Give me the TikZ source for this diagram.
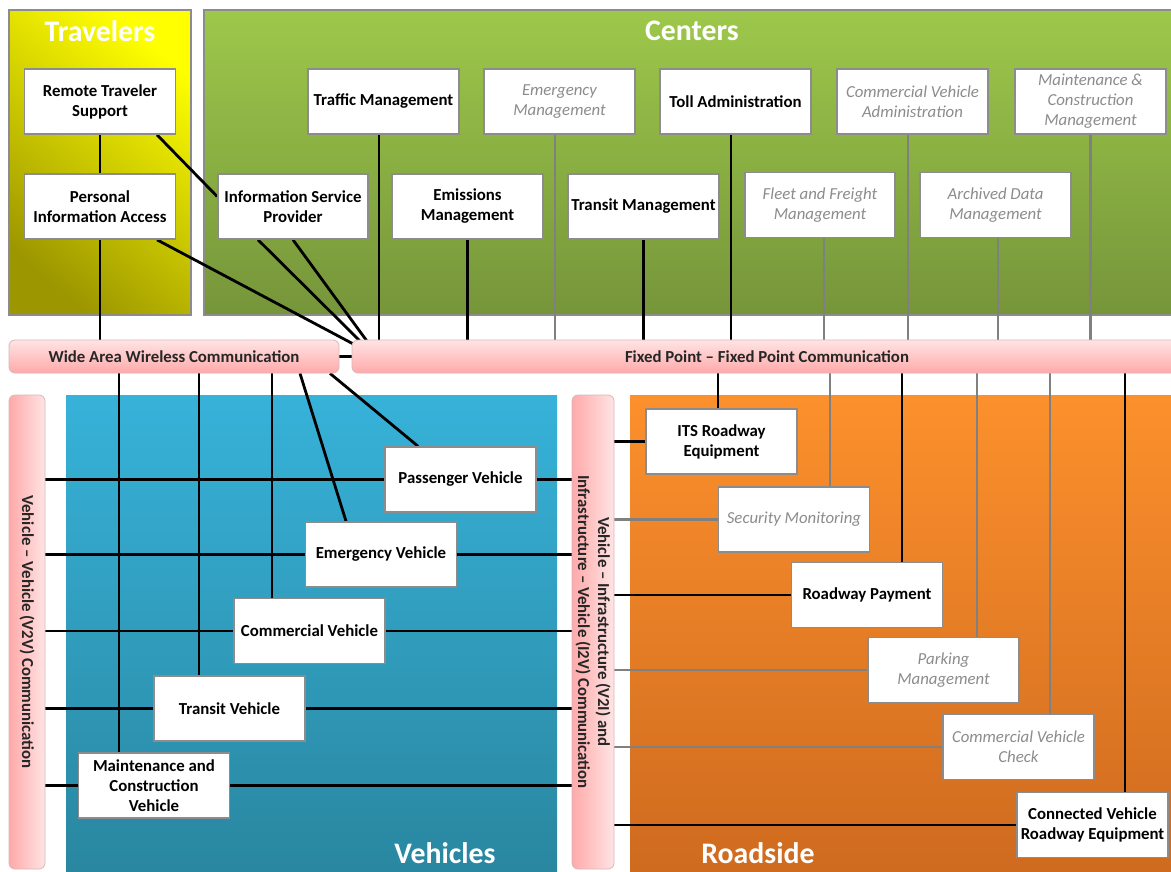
\documentclass[tikz,border=0pt]{standalone}
\usepackage{fontspec}
\setmainfont{Carlito}

\definecolor{boxline}{HTML}{8C8C8C}
\definecolor{dimtext}{HTML}{8C8C8C}
\definecolor{graywire}{HTML}{808080}
\definecolor{barline}{HTML}{D9B8B8}
\definecolor{pinkhi}{HTML}{FFE4E4}
\definecolor{pinklo}{HTML}{FFA9A9}
\definecolor{ylwhi}{HTML}{FFFF00}
\definecolor{ylwlo}{HTML}{9C9600}
\definecolor{grnhi}{HTML}{9DC84B}
\definecolor{grnlo}{HTML}{76953A}
\definecolor{bluhi}{HTML}{37B2D9}
\definecolor{blulo}{HTML}{29869F}
\definecolor{orghi}{HTML}{FC902C}
\definecolor{orglo}{HTML}{CE6A1F}

\pgfdeclarelayer{regions}
\pgfdeclarelayer{wires}
\pgfsetlayers{regions,wires,main}

% vertical tap from a node anchor (shifted sideways) into a bus bar
\newcommand\busdrop[4]{%
  \path ([xshift=#3]#2) coordinate (dropfoot);
  \draw[#1] (dropfoot) -- (dropfoot |- #4.center);}

\tikzset{
  unit/.style={draw=boxline, line width=1.6pt, fill=white, minimum width=151pt,
    minimum height=65pt, inner sep=2pt, align=center, text=black,
    font=\bfseries\fontsize{16.8}{20}\selectfont},
  dimunit/.style={unit, text=dimtext, font=\itshape\fontsize{16.8}{20}\selectfont},
  hbar/.style={draw=barline, line width=0.8pt, rounded corners=6pt,
    top color=pinkhi, bottom color=pinklo, inner sep=0pt, text=black!85,
    font=\bfseries\fontsize{16.8}{19}\selectfont},
  vbar/.style={draw=barline, line width=0.8pt, rounded corners=6pt,
    left color=pinklo, right color=pinkhi, inner sep=0pt},
  barlabel/.style={text=black!85, font=\bfseries\fontsize{16.8}{20}\selectfont,
    align=center, rotate=-90},
  wire/.style={line width=2.8pt, draw=black},
  dimlink/.style={line width=2.8pt, draw=graywire},
  region/.style={draw=boxline, line width=1.5pt},
  regiontitle/.style={text=white, font=\bfseries\fontsize{29.8}{32}\selectfont},
}

\begin{document}
\begin{tikzpicture}[x=1pt,y=-1pt]
\useasboundingbox (0,0) rectangle (1171,871);
\clip (0,0) rectangle (1171,871);

% ---------- coloured domains ----------
\begin{pgfonlayer}{regions}
  \clip (0,0) rectangle (1171,871);
  \fill[white] (0,0) rectangle (1171,871);
  \shade[region, top color=ylwhi, bottom color=ylwlo, shading angle=-40] (9,10) rectangle (191,315);
  \shade[region, top color=grnhi, bottom color=grnlo] (204,10) rectangle (1185,315);
  \shade[top color=bluhi, bottom color=blulo] (66,395) rectangle (557,880);
  \shade[top color=orghi, bottom color=orglo] (630,395) rectangle (1180,880);
\end{pgfonlayer}

\node[regiontitle] (ttrav) at (100,31) {Travelers};
\node[regiontitle] (tcent) at (692,31) {Centers};
\node[regiontitle] (tveh)  at (445,853) {Vehicles};
\node[regiontitle] (troad) at (758,853) {Roadside};

% ---------- communication bars ----------
\node[hbar, minimum width=330pt, minimum height=33pt] (wa) at (174,356.5) {Wide Area Wireless Communication};
\node[hbar, minimum width=830pt, minimum height=33pt] (fp) at (767,356.5) {Fixed Point -- Fixed Point Communication};
\node[vbar, minimum width=36pt, minimum height=474pt] (v2v) at (27,632) {};
\node[barlabel] (v2vlab) at (v2v.center) {Vehicle -- Vehicle (V2V) Communication};
\node[vbar, minimum width=42pt, minimum height=474pt] (v2i) at (593,632) {};
\node[barlabel] (v2ilab) at (v2i.center) {Vehicle -- Infrastructure (V2I) and\\Infrastructure -- Vehicle (I2V) Communication};

% ---------- travelers ----------
\node[unit] (rts) at (100,101.5) {Remote Traveler\\Support};
\node[unit] (pia) at (100,206.5) {Personal\\Information Access};

% ---------- centers ----------
\node[unit]    (tm)  at (383.5,101.5) {Traffic Management};
\node[dimunit] (em)  at (559.5,101.5) {Emergency\\Management};
\node[unit]    (ta)  at (735.5,101.5) {Toll Administration};
\node[dimunit] (cva) at (912.5,101.5) {Commercial Vehicle\\Administration};
\node[dimunit] (mcm) at (1090.5,101.5) {Maintenance \&\\Construction\\Management};
\node[unit, minimum width=150pt] (isp) at (293,206.5) {Information Service\\Provider};
\node[unit]    (emm) at (467.5,206.5) {Emissions\\Management};
\node[unit]    (trm) at (643.5,206.5) {Transit Management};
\node[dimunit, minimum width=150pt] (ffm) at (820,205) {Fleet and Freight\\Management};
\node[dimunit] (adm) at (995.5,205) {Archived Data\\Management};

% ---------- vehicles ----------
\node[unit] (pv)  at (460.5,479.5) {Passenger Vehicle};
\node[unit] (ev)  at (381,554.5) {Emergency Vehicle};
\node[unit] (cv)  at (309.5,631) {Commercial Vehicle};
\node[unit] (tv)  at (229.5,708.5) {Transit Vehicle};
\node[unit] (mcv) at (154,785.5) {Maintenance and\\Construction\\Vehicle};

% ---------- roadside ----------
\node[unit]    (its)  at (721.5,441.5) {ITS Roadway\\Equipment};
\node[dimunit] (sm)   at (794,519.5) {Security Monitoring};
\node[unit]    (rp)   at (867,595) {Roadway Payment};
\node[dimunit] (pm)   at (943.5,670) {Parking\\Management};
\node[dimunit] (cvc)  at (1018.5,747) {Commercial Vehicle\\Check};
\node[unit]    (cvre) at (1092.5,825) {Connected Vehicle\\Roadway Equipment};

% ---------- connectors ----------
\begin{pgfonlayer}{wires}
  % traveler links
  \draw[wire] (rts.south) -- (pia.north);
  \draw[wire] ([xshift=57pt]rts.south) -- ([yshift=10pt]isp.west);
  \busdrop{wire}{pia.south}{0pt}{wa}
  \draw[wire] ([xshift=57pt]pia.south) -- ([xshift=1pt,yshift=-4pt]fp.north west);
  \draw[wire] ([xshift=-35pt]isp.south) -- ([xshift=8pt,yshift=-1pt]fp.north west);
  \draw[wire] (isp.south) -- ([xshift=15pt,yshift=-1pt]fp.north west);
  % bar to bar
  \draw[wire] (wa.center) -- (fp.center);
  % centers into the fixed point bar
  \busdrop{wire}{tm.south}{-4.5pt}{fp}
  \busdrop{wire}{emm.south}{0pt}{fp}
  \busdrop{dimlink}{em.south}{-4.5pt}{fp}
  \busdrop{wire}{trm.south}{0pt}{fp}
  \busdrop{wire}{ta.south}{-4.5pt}{fp}
  \busdrop{dimlink}{ffm.south}{4pt}{fp}
  \busdrop{dimlink}{cva.south}{-4.5pt}{fp}
  \busdrop{dimlink}{adm.south}{2.5pt}{fp}
  \busdrop{dimlink}{mcm.south}{0pt}{fp}
  % wide area wireless to vehicles
  \busdrop{wire}{mcv.north}{-35pt}{wa}
  \busdrop{wire}{tv.north}{-30.5pt}{wa}
  \busdrop{wire}{cv.north}{-37.5pt}{wa}
  \draw[wire] ([xshift=126pt]wa.south) -- ([xshift=-35pt]ev.north);
  \draw[wire] ([xshift=156pt]wa.south) -- ([xshift=-42.5pt]pv.north);
  % vehicle to vehicle / vehicle to infrastructure
  \foreach \v in {pv,ev,cv,tv,mcv}
    \draw[wire] (v2v.center |- \v.center) -- (v2i.center |- \v.center);
  % roadside into the fixed point bar
  \busdrop{wire}{its.north}{-3.5pt}{fp}
  \busdrop{dimlink}{sm.north}{36pt}{fp}
  \busdrop{wire}{rp.north}{35pt}{fp}
  \busdrop{dimlink}{pm.north}{33.5pt}{fp}
  \busdrop{dimlink}{cvc.north}{31.5pt}{fp}
  \busdrop{wire}{cvre.north}{32.5pt}{fp}
  % roadside to the V2I bar
  \draw[wire]    (v2i.center |- its.center) -- (its.center);
  \draw[dimlink] (v2i.center |- sm.center) -- (sm.center);
  \draw[wire]    (v2i.center |- rp.center) -- (rp.center);
  \draw[dimlink] (v2i.center |- pm.center) -- (pm.center);
  \draw[dimlink] (v2i.center |- cvc.center) -- (cvc.center);
  \draw[wire]    (v2i.center |- cvre.center) -- (cvre.center);
\end{pgfonlayer}
\end{tikzpicture}
\end{document}
